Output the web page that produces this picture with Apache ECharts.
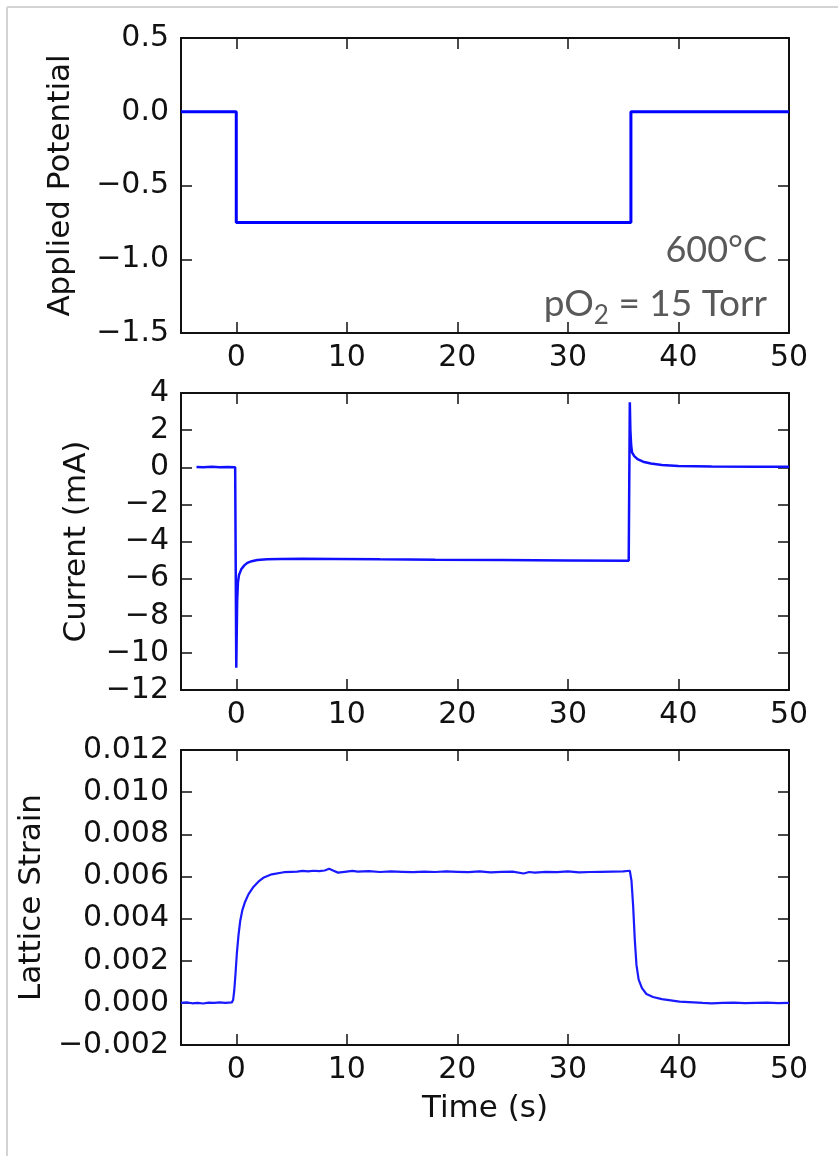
<!DOCTYPE html>
<html>
<head>
<meta charset="utf-8">
<title>Potential step: current and lattice strain</title>
<script src="https://cdn.jsdelivr.net/npm/echarts@6/dist/echarts.min.js"></script>
<style>
  html, body { margin: 0; padding: 0; background: #fff; }
  #chart { width: 838px; height: 1156px; }
</style>
</head>
<body>
<div id="chart"></div>
<script>
// Time axis ticks (s)
const timeTicks = [0, 10, 20, 30, 40, 50];

// Applied potential step vs time: [t (s), V]
const potential = [
  [-5, 0], [0, 0], [0, -0.75], [35.7, -0.75], [35.7, 0], [50, 0]
];

// Cell current vs time: [t (s), mA]
const current = [
  [-3.6, 0.02], [-3.0, 0.0], [-2.2, 0.03], [-1.5, 0.0], [-0.8, 0.02], [-0.1, 0.0],
  [0.0, -10.8], [0.08, -7.2], [0.15, -6.2], [0.25, -5.8], [0.45, -5.5], [0.7, -5.3],
  [1.0, -5.15], [1.4, -5.06], [1.9, -5.0], [2.8, -4.96], [4.0, -4.94], [6.0, -4.93],
  [9.0, -4.94], [13, -4.96], [18, -4.98], [24, -5.0], [30, -5.02], [35.5, -5.04],
  [35.6, 3.5], [35.65, 2.0], [35.72, 1.2], [35.8, 0.8], [36.0, 0.6], [36.3, 0.44],
  [36.8, 0.3], [37.5, 0.2], [38.5, 0.12], [40, 0.07], [43, 0.04], [47, 0.03], [50, 0.03]
];

// Lattice strain vs time: [t (s), strain]
const strain = [
  [-5, 0.0], [-4.5, 0.00002], [-4, -0.00002], [-3.5, 0.0], [-3, -0.00003], [-2.5, 0.00001],
  [-2, 0.0], [-1.5, 0.00002], [-1, 0.0], [-0.4, 0.00002], [-0.28, 0.00015], [-0.18, 0.0006],
  [-0.08, 0.0013], [0.06, 0.0024], [0.2, 0.0032], [0.36, 0.0039], [0.55, 0.0044], [0.8, 0.0048],
  [1.1, 0.00515], [1.55, 0.0055], [2.0, 0.00575], [2.5, 0.00595], [3.2, 0.0061], [4.3, 0.0062],
  [5.0, 0.00622], [5.5, 0.00623], [6, 0.00626], [6.5, 0.00624], [7, 0.00627], [7.5, 0.00625],
  [8, 0.00628], [8.4, 0.00636], [8.8, 0.00627], [9.2, 0.00618], [9.8, 0.00622], [10.5, 0.00626],
  [11, 0.00623], [12, 0.00625], [13, 0.00621], [14, 0.00624], [15, 0.00622], [16, 0.0062],
  [17, 0.00623], [18, 0.00621], [19, 0.00624], [20, 0.00622], [21, 0.0062], [22, 0.00624],
  [23, 0.00619], [24, 0.00622], [25, 0.00623], [26, 0.00614], [26.5, 0.00621], [27, 0.00618],
  [28, 0.00622], [29, 0.0062], [30, 0.00624], [31, 0.00619], [32, 0.00621], [33, 0.00622],
  [34, 0.00623], [35, 0.00624], [35.6, 0.00627], [35.75, 0.0058], [35.9, 0.0046], [36.05, 0.003],
  [36.2, 0.0018], [36.4, 0.0011], [36.7, 0.0007], [37.1, 0.00042], [37.7, 0.00028], [38.5, 0.00018],
  [40.1, 0.00006], [42.2, 0.0], [43, -0.00002], [44, 0.0], [45, 0.00001], [46, -0.00001],
  [47, 0.0], [48, 0.00001], [49, -0.00001], [50, 0.0]
];

const tickFont = 'DejaVu Sans';
const noteFont = 'Lato';
const ink = '#111';

function fmt(dec) {
  return function (v) {
    if (Math.abs(v) < 1e-12) v = 0;
    return v.toFixed(dec).replace('-', '\u2212');
  };
}

const grids = [
  { left: 181, right: 49, top: 38, height: 295 },
  { left: 181, right: 49, top: 393, height: 297 },
  { left: 181, right: 49, top: 750, height: 295 }
];

const yDefs = [
  { min: -1.5, max: 0.5, interval: 0.5, dec: 1, name: 'Applied Potential', gap: 105 },
  { min: -12, max: 4, interval: 2, dec: 0, name: 'Current (mA)', gap: 89 },
  { min: -0.002, max: 0.012, interval: 0.002, dec: 3, name: 'Lattice Strain', gap: 131 }
];

const lineAxis = { show: true, onZero: false, lineStyle: { color: ink, width: 2 } };
const tickIn = { show: true, inside: true, length: 11, lineStyle: { color: ink, width: 1.5 } };

const xAxes = [];
const yAxes = [];
grids.forEach(function (g, i) {
  xAxes.push({
    type: 'value', gridIndex: i, min: -5, max: 50, position: 'bottom',
    axisLine: lineAxis, splitLine: { show: false },
    axisTick: Object.assign({ customValues: timeTicks }, tickIn),
    axisLabel: {
      customValues: timeTicks, margin: 10, fontFamily: tickFont, fontSize: 30, color: ink
    },
    name: i === 2 ? 'Time (s)' : '', nameLocation: 'middle', nameGap: 48,
    nameTextStyle: { fontFamily: tickFont, fontSize: 31, color: ink }
  });
  xAxes.push({
    type: 'value', gridIndex: i, min: -5, max: 50, position: 'top',
    axisLine: lineAxis, splitLine: { show: false },
    axisTick: Object.assign({ customValues: timeTicks }, tickIn),
    axisLabel: { show: false }
  });
  const d = yDefs[i];
  yAxes.push({
    type: 'value', gridIndex: i, min: d.min, max: d.max, interval: d.interval, position: 'left',
    axisLine: lineAxis, splitLine: { show: false }, axisTick: tickIn,
    axisLabel: { formatter: fmt(d.dec), margin: 12, fontFamily: tickFont, fontSize: 30, color: ink },
    name: d.name, nameLocation: 'middle', nameRotate: 90, nameGap: d.gap,
    nameTextStyle: { fontFamily: tickFont, fontSize: 31, color: ink }
  });
  yAxes.push({
    type: 'value', gridIndex: i, min: d.min, max: d.max, interval: d.interval, position: 'right',
    axisLine: lineAxis, splitLine: { show: false }, axisTick: tickIn,
    axisLabel: { show: false }
  });
});

// Condition label in the potential panel, with a subscripted "2"
const measure = document.createElement('canvas').getContext('2d');
function textWidth(str, size) {
  measure.font = size + 'px ' + noteFont;
  return measure.measureText(str).width;
}
const noteRight = 767;
const tailText = ' = 15 Torr';
const tailW = textWidth(tailText, 37);
const subW = textWidth('2', 26);
const noteStyle = { fill: '#595959', fontFamily: noteFont, fontSize: 37, textAlign: 'right', textVerticalAlign: 'top' };

const chart = echarts.init(document.getElementById('chart'), null, { renderer: 'canvas' });
chart.setOption({
  animation: false,
  backgroundColor: '#fff',
  grid: grids.map(function (g) { return Object.assign({ outerBoundsMode: 'none' }, g); }),
  xAxis: xAxes,
  yAxis: yAxes,
  series: [
    { type: 'line', xAxisIndex: 0, yAxisIndex: 0, data: potential, showSymbol: false,
      lineStyle: { color: '#0000ff', width: 3 } },
    { type: 'line', xAxisIndex: 2, yAxisIndex: 2, data: current, showSymbol: false,
      lineStyle: { color: '#1010ff', width: 2.5 } },
    { type: 'line', xAxisIndex: 4, yAxisIndex: 4, data: strain, showSymbol: false,
      lineStyle: { color: '#1a1aff', width: 2.2 } }
  ],
  graphic: [
    { type: 'line', shape: { x1: 7, y1: 7, x2: 838, y2: 7 }, style: { stroke: '#d4d4d4', lineWidth: 2 } },
    { type: 'line', shape: { x1: 7, y1: 7, x2: 7, y2: 1156 }, style: { stroke: '#d4d4d4', lineWidth: 2 } },
    { type: 'text', x: noteRight, y: 232, style: Object.assign({}, noteStyle, { text: '600°C', fontSize: 36 }) },
    { type: 'text', x: noteRight, y: 286, style: Object.assign({ text: tailText }, noteStyle) },
    { type: 'text', x: noteRight - tailW, y: 303,
      style: Object.assign({}, noteStyle, { text: '2', fontSize: 26 }) },
    { type: 'text', x: noteRight - tailW - subW, y: 286, style: Object.assign({ text: 'pO' }, noteStyle) }
  ]
});
</script>
</body>
</html>
